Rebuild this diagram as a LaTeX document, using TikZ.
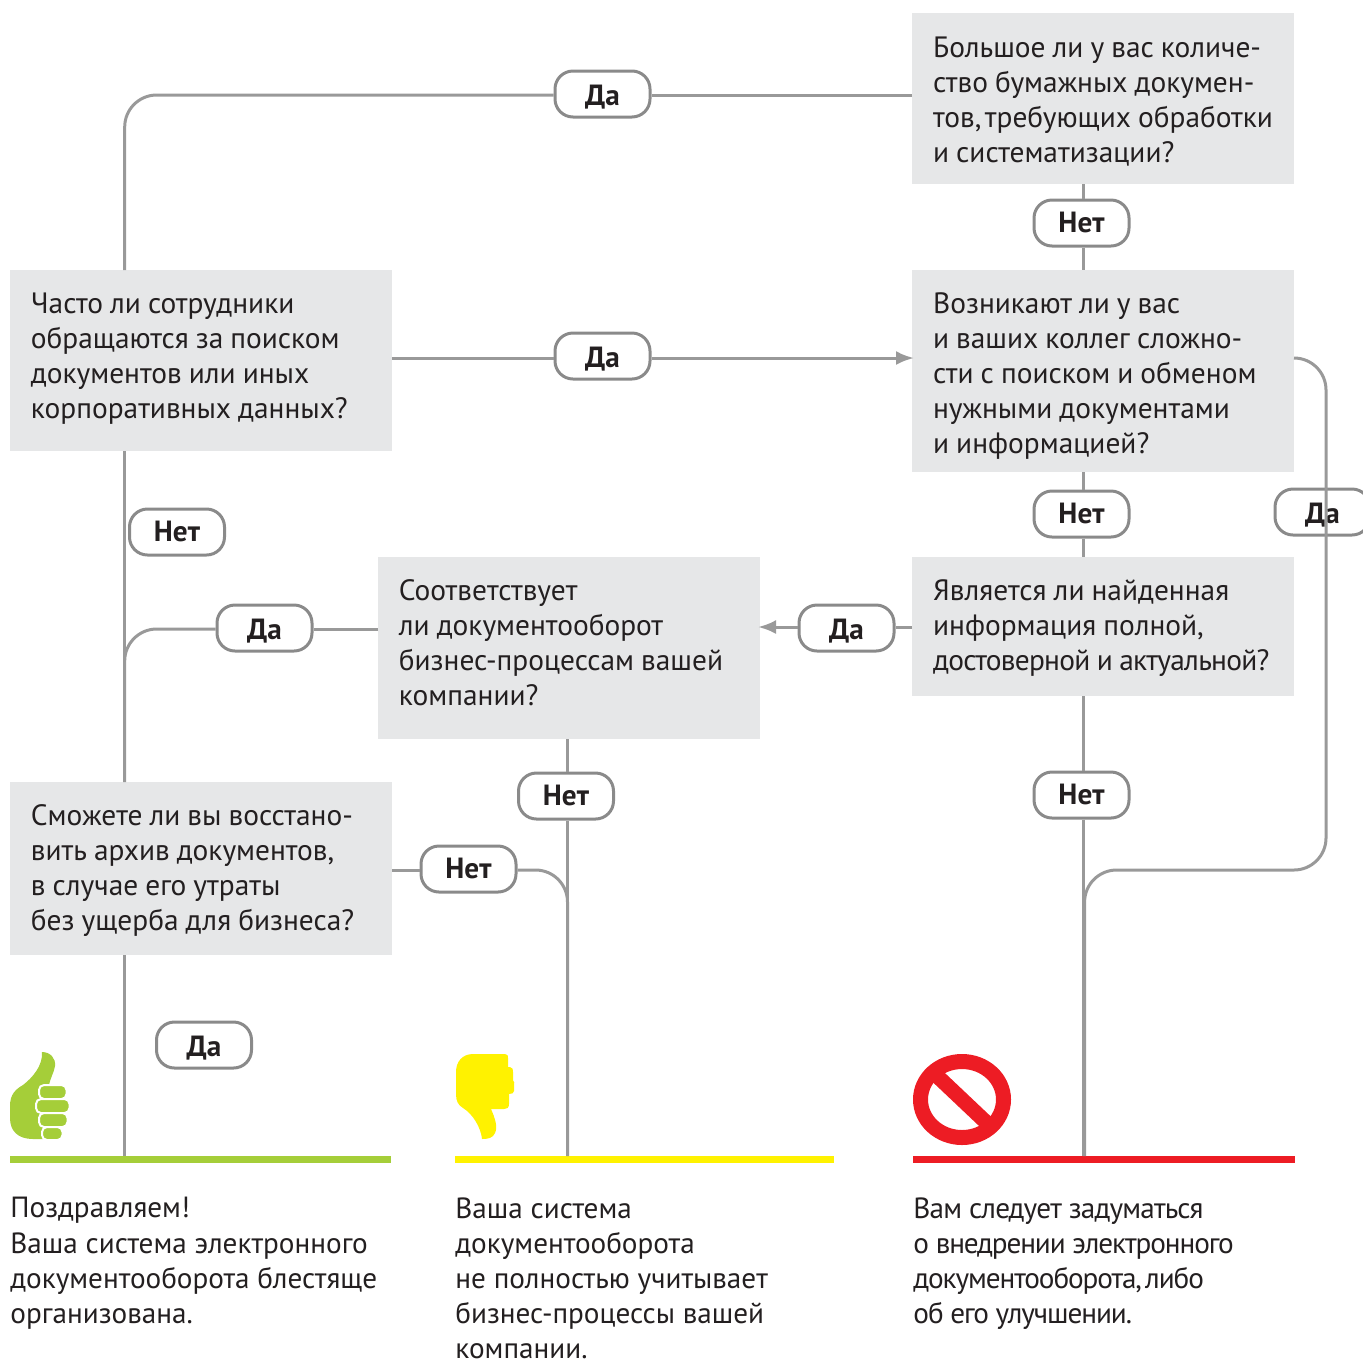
\documentclass[tikz,border=0pt]{standalone}
\usepackage{fontspec}
\setmainfont{PT Sans}
\newfontfamily\qfont[WordSpace=0.9]{PT Sans}
\newfontfamily\qtightfont[WordSpace=0.9,LetterSpace=-2.5]{PT Sans}
\newfontfamily\tightfont[LetterSpace=-2.8]{PT Sans}
\newfontfamily\tighterfont[LetterSpace=-3.7]{PT Sans}
\usetikzlibrary{arrows.meta}
\definecolor{boxgray}{HTML}{E6E7E8}
\definecolor{linegray}{HTML}{999999}
\definecolor{pillgray}{HTML}{8A8A8A}
\definecolor{inkc}{HTML}{231F20}
\definecolor{okgreen}{HTML}{A5CE39}
\definecolor{warnyellow}{HTML}{FFF200}
\definecolor{stopred}{HTML}{ED1C24}
\tikzset{
  qbox/.style={fill=boxgray,anchor=north west,inner sep=0pt,outer sep=0pt,minimum width=191pt},
  qtext/.style={anchor=north west,inner sep=0pt,align=left,text=inkc,font=\fontsize{14.7}{17.55}\selectfont\qfont},
  pill/.style={draw=pillgray,line width=1.5pt,fill=white,rounded corners=9pt,minimum width=47.5pt,minimum height=23pt,inner sep=0pt,text depth=0pt,text=inkc,font=\fontsize{14.6}{17}\selectfont\bfseries},
  pillyes/.style={pill,text height=11pt},
  pillno/.style={pill,text height=9pt},
  conn/.style={draw=linegray,line width=1.5pt,rounded corners=16pt},
  arrowconn/.style={conn,shorten >=-1pt,-{Latex[length=9pt,width=7pt]}},
  result/.style={anchor=north west,inner sep=0pt,align=left,text=inkc,font=\fontsize{14.6}{17.6}\selectfont},
  bar/.style={anchor=north west,inner sep=0pt,minimum height=3.5pt}
}
\begin{document}
\begin{tikzpicture}[x=0.5pt,y=-0.5pt]
\useasboundingbox (0,0) rectangle (1363,1361);
% question boxes
\node[qbox,minimum height=85.5pt] (b1) at (912,13) {};
\node[qbox,minimum height=101pt] (b2) at (912,270) {};
\node[qbox,minimum height=90.5pt] (b3) at (10,270) {};
\node[qbox,minimum height=91pt] (b4) at (378,557) {};
\node[qbox,minimum height=69.5pt] (b5) at (912,557) {};
\node[qbox,minimum height=86.5pt] (b6) at (10,782) {};
\node[qtext] (q1) at (932.7,36.3) {Большое ли у вас количе-\\ство бумажных докумен-\\тов,\hspace{-0.12em} требующих обработки\\и систематизации?};
\node[qtext] (q2) at (932.7,292.3) {Возникают ли у вас\\и ваших коллег сложно-\\сти с поиском и обменом\\нужными документами\\и информацией?};
\node[qtext] (q3) at (30.5,292.3) {Часто ли сотрудники\\обращаются за поиском\\документов или иных\\корпоративных данных?};
\node[qtext] (q4) at (398.5,579.3) {Соответствует\\ли документооборот\\бизнес-процессам вашей\\компании?};
\node[qtext] (q5) at (932.7,579.3) {Является ли найденная\\информация полной,\\{\qtightfont достоверной и актуальной?}};
\node[qtext] (q6) at (30.5,804.3) {Сможете ли вы восстано-\\вить архив документов,\\в случае его утраты\\без ущерба для бизнеса?};
% result bars
\node[bar,fill=okgreen,minimum width=190.5pt] (gbar) at (10,1156) {};
\node[bar,fill=warnyellow,minimum width=189.5pt] (ybar) at (455,1156) {};
\node[bar,fill=stopred,minimum width=191pt] (rbar) at (913,1156) {};
% pills
\node[pillyes] (da1) at (602.5,94) {Да};
\node[pillno] (net1) at (1081.5,223) {Нет};
\node[pillyes] (da2) at (602.5,356) {Да};
\node[pillno] (net2) at (1081.5,514) {Нет};
\node[pillyes] (da3) at (1322.5,512) {Да};
\node[pillno] (net3) at (177,532) {Нет};
\node[pillyes] (da4) at (846.5,628) {Да};
\node[pillyes] (da5) at (264.5,628) {Да};
\node[pillno] (net4) at (566,796) {Нет};
\node[pillno] (net5) at (1081.5,795) {Нет};
\node[pillno] (net6) at (468.5,869) {Нет};
\node[pillyes] (da6) at (204,1045) {Да};
% guide coordinates
\coordinate (xl) at (124.7,0);
\coordinate (xm) at (567.5,0);
\coordinate (xr) at (1083.3,0);
\coordinate (xs) at (1084.6,0);
\coordinate (xo) at (1326,0);
\coordinate (y1) at (0,95);
\coordinate (y2) at (0,358);
\coordinate (y3) at (0,627);
\coordinate (y4) at (0,629);
\coordinate (y5) at (0,870);
% connectors
\draw[conn] (b1.west |- y1) -- (da1.east |- y1);
\draw[conn] (da1.west |- y1) -| (xl |- b3.north);
\draw[conn] (xr |- b1.south) -- (xr |- net1.north);
\draw[conn] (xr |- net1.south) -- (xr |- b2.north);
\draw[conn] (b3.east |- y2) -- (da2.west |- y2);
\draw[arrowconn] (da2.east |- y2) -- (b2.west |- y2);
\draw[conn] (xr |- b2.south) -- (xr |- net2.north);
\draw[conn] (xr |- net2.south) -- (xr |- b5.north);
\draw[conn] (b5.west |- y3) -- (da4.east |- y3);
\draw[arrowconn] (da4.west |- y3) -- (b4.east |- y3);
\draw[conn] (xl |- b3.south) -- (xl |- b6.north);
\draw[conn] (b4.west |- y4) -- (da5.east |- y4);
\draw[conn] (da5.west |- y4) -| (xl |- b6.north);
\draw[conn] (xm |- b4.south) -- (xm |- net4.north);
\draw[conn] (xm |- net4.south) -- (xm |- ybar.north);
\draw[conn] (b6.east |- y5) -- (net6.west |- y5);
\draw[conn] (net6.east |- y5) -| (xm |- ybar.north);
\draw[conn] (xr |- b5.south) -- (xr |- net5.north);
\draw[conn] (xr |- net5.south) -- (xr |- rbar.north);
\draw[conn] (xl |- b6.south) -- (xl |- gbar.north);
\draw[conn] (b2.east |- y2) -- (xo |- y2) -- (xo |- y5) -- (xs |- y5) -- (xs |- rbar.north);
% thumb up
\fill[okgreen] (42,1052) .. controls (50,1052) and (56,1058) .. (55,1066) .. controls (54,1073) and (50,1078) .. (49,1086) -- (49,1139) -- (33,1139) .. controls (18,1139) and (10,1131) .. (10,1118) -- (10,1106) .. controls (10,1094) and (16,1089) .. (23,1085) .. controls (32,1078) and (43,1066) .. (42,1052) -- cycle;
\tikzset{fing/.style={fill=okgreen,draw=white,line width=1pt,rounded corners=2.5pt}}
\path[fing] (39,1085) rectangle (66.5,1099);
\path[fing] (36,1099) rectangle (69.5,1113);
\path[fing] (39,1113) rectangle (67.5,1127);
\path[fing] (42,1127) rectangle (62.5,1140);
% thumb down
\fill[warnyellow] (473,1054) -- (505,1054) .. controls (508,1054) and (508,1056) .. (508,1058) -- (508,1067) -- (510,1067) .. controls (513,1067) and (513,1070) .. (513,1072) -- (513,1080) .. controls (515,1081) and (514,1084) .. (514,1086) -- (514,1091) .. controls (514,1093) and (512,1094) .. (509,1094) -- (509,1104) .. controls (509,1108) and (507,1109) .. (504,1109) -- (491,1109) .. controls (495,1118) and (498,1127) .. (495,1133) .. controls (493,1138) and (488,1139) .. (482,1139) .. controls (481,1128) and (473,1114) .. (463,1108) .. controls (458,1105) and (456,1101) .. (456,1094) -- (456,1072) .. controls (456,1062) and (462,1054) .. (473,1054) -- cycle;
% prohibition sign
\draw[stopred,line width=7.5pt] (962,1099.5) ellipse [x radius=41.5,y radius=38];
\draw[stopred,line width=7.5pt] (934,1073) -- (990,1126);
% result texts
\node[result] (t1) at (10,1197) {Поздравляем!\\Ваша система электронного\\документооборота блестяще\\организована.};
\node[result] (t2) at (455,1197) {Ваша система\\документооборота\\не полностью учитывает\\бизнес-процессы вашей\\компании.};
\node[result] (t3) at (913,1197) {{\tightfont Вам следует задуматься}\\{\tighterfont о внедрении электронного}\\{\tighterfont документооборота,\hspace{-0.12em} либо}\\{\tighterfont об его улучшении.}};
\end{tikzpicture}
\end{document}
